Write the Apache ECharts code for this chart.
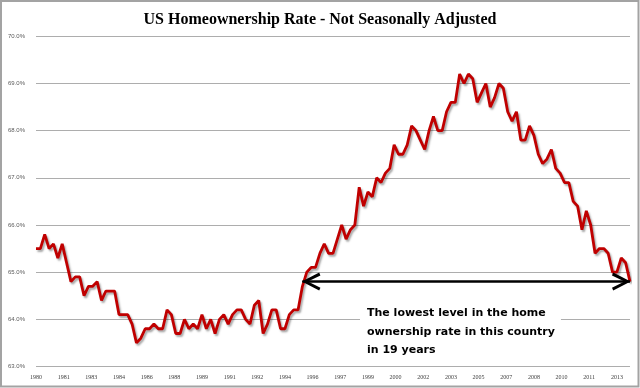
<!DOCTYPE html>
<html>
<head>
<meta charset="utf-8">
<script src="https://cdn.jsdelivr.net/npm/echarts@6/dist/echarts.min.js"></script>
<style>
html,body{margin:0;padding:0;background:#fff;}
#chart{width:640px;height:388px;}
</style>
</head>
<body>
<div id="chart"></div>
<script>
// ---- data ----
const firstYear = 1980;
const rates = [
  65.5, 65.5, 65.8, 65.5,   // 1980
  65.6, 65.3, 65.6, 65.2,   // 1981
  64.8, 64.9, 64.9, 64.5,   // 1982
  64.7, 64.7, 64.8, 64.4,   // 1983
  64.6, 64.6, 64.6, 64.1,   // 1984
  64.1, 64.1, 63.9, 63.5,   // 1985
  63.6, 63.8, 63.8, 63.9,   // 1986
  63.8, 63.8, 64.2, 64.1,   // 1987
  63.7, 63.7, 64.0, 63.8,   // 1988
  63.9, 63.8, 64.1, 63.8,   // 1989
  64.0, 63.7, 64.0, 64.1,   // 1990
  63.9, 64.1, 64.2, 64.2,   // 1991
  64.0, 63.9, 64.3, 64.4,   // 1992
  63.7, 63.9, 64.2, 64.2,   // 1993
  63.8, 63.8, 64.1, 64.2,   // 1994
  64.2, 64.7, 65.0, 65.1,   // 1995
  65.1, 65.4, 65.6, 65.4,   // 1996
  65.4, 65.7, 66.0, 65.7,   // 1997
  65.9, 66.0, 66.8, 66.4,   // 1998
  66.7, 66.6, 67.0, 66.9,   // 1999
  67.1, 67.2, 67.7, 67.5,   // 2000
  67.5, 67.7, 68.1, 68.0,   // 2001
  67.8, 67.6, 68.0, 68.3,   // 2002
  68.0, 68.0, 68.4, 68.6,   // 2003
  68.6, 69.2, 69.0, 69.2,   // 2004
  69.1, 68.6, 68.8, 69.0,   // 2005
  68.5, 68.7, 69.0, 68.9,   // 2006
  68.4, 68.2, 68.4, 67.8,   // 2007
  67.8, 68.1, 67.9, 67.5,   // 2008
  67.3, 67.4, 67.6, 67.2,   // 2009
  67.1, 66.9, 66.9, 66.5,   // 2010
  66.4, 65.9, 66.3, 66.0,   // 2011
  65.4, 65.5, 65.5, 65.4,   // 2012
  65.0, 65.0, 65.3, 65.2,   // 2013
  64.8                      // 2014
];
const quarters = rates.map((_, i) => (firstYear + Math.floor(i / 4)) + 'Q' + (i % 4 + 1));
const tickLabels = ['1980','1981','1983','1984','1986','1988','1989','1991','1992','1994','1996',
                    '1997','1999','2000','2002','2003','2005','2007','2008','2010','2011','2013'];
const labelStepMonths = 19;          // axis labels every 19 months
const yTicks = [63, 64, 65, 66, 67, 68, 69, 70];
const titleText = 'US Homeownership Rate - Not Seasonally Adjusted';
const noteLines = ['The lowest level in the home', 'ownership rate in this country', 'in 19 years'];
const arrowFromQuarter = '1995Q2';

// ---- chart ----
const chart = echarts.init(document.getElementById('chart'), null, {renderer: 'canvas'});
const lastQuarter = quarters[quarters.length - 1];
const lowValue = rates[rates.length - 1];
const spanMonths = (rates.length - 1) * 3;

const chevron = 'path://M0,-18L0.01,-18L0,-17.99Z M0,-1L9,16L6.2,17.2L0,5L-6.2,17.2L-9,16Z';

const option = {
  animation: false,
  backgroundColor: '#fff',
  title: {
    text: titleText,
    left: 'center',
    top: 7,
    textStyle: {fontFamily: 'Liberation Serif', fontWeight: 'bold', fontSize: 16, color: '#000'}
  },
  grid: {left: 36, right: 10, top: 36.3, bottom: 21.5, containLabel: false},
  xAxis: [
    {
      type: 'category', data: quarters, boundaryGap: false,
      axisLine: {show: false}, axisTick: {show: false}, axisLabel: {show: false}, splitLine: {show: false}
    },
    {
      type: 'value', min: 0, max: spanMonths, interval: labelStepMonths, position: 'bottom',
      axisLine: {show: false}, axisTick: {show: false}, splitLine: {show: false},
      axisLabel: {
        showMaxLabel: false, margin: 8, fontSize: 6, color: '#404040', fontFamily: 'Liberation Serif',
        formatter: v => tickLabels[Math.round(v / labelStepMonths)] || ''
      }
    }
  ],
  yAxis: {
    type: 'value', min: yTicks[0], max: yTicks[yTicks.length - 1], interval: 1,
    axisLine: {show: false}, axisTick: {show: false},
    splitLine: {lineStyle: {color: '#adadad', width: 1}},
    axisLabel: {fontSize: 6, color: '#595959', margin: 11, fontFamily: 'Liberation Sans',
      formatter: v => v.toFixed(1) + '%'}
  },
  series: [{
    type: 'line', data: rates, xAxisIndex: 0, showSymbol: false, symbol: 'none',
    lineStyle: {color: '#c00000', width: 2.8, shadowColor: 'rgba(0,0,0,0.35)', shadowBlur: 2,
      shadowOffsetX: 1.5, shadowOffsetY: 2},
    z: 3,
    markLine: {
      silent: true, animation: false,
      symbol: [chevron, chevron], symbolSize: [18, 36],
      label: {show: false},
      lineStyle: {color: '#000', width: 2.5, type: 'solid'},
      data: [[{coord: [arrowFromQuarter, lowValue]}, {coord: [lastQuarter, lowValue]}]]
    }
  }],
  graphic: [
    {type: 'rect', shape: {x: 1, y: 1, width: 637.5, height: 385.5},
      style: {fill: 'none', stroke: '#a3a3a3', lineWidth: 2}, z: 100},
    {type: 'text', left: 360, top: 304, z: 50,
      style: {text: noteLines.join('\n'), font: 'bold 11px "DejaVu Sans"', fill: '#000',
        lineHeight: 18.5, backgroundColor: '#fff', padding: [0, 6, 0, 7]}}
  ]
};
chart.setOption(option);
</script>
</body>
</html>
